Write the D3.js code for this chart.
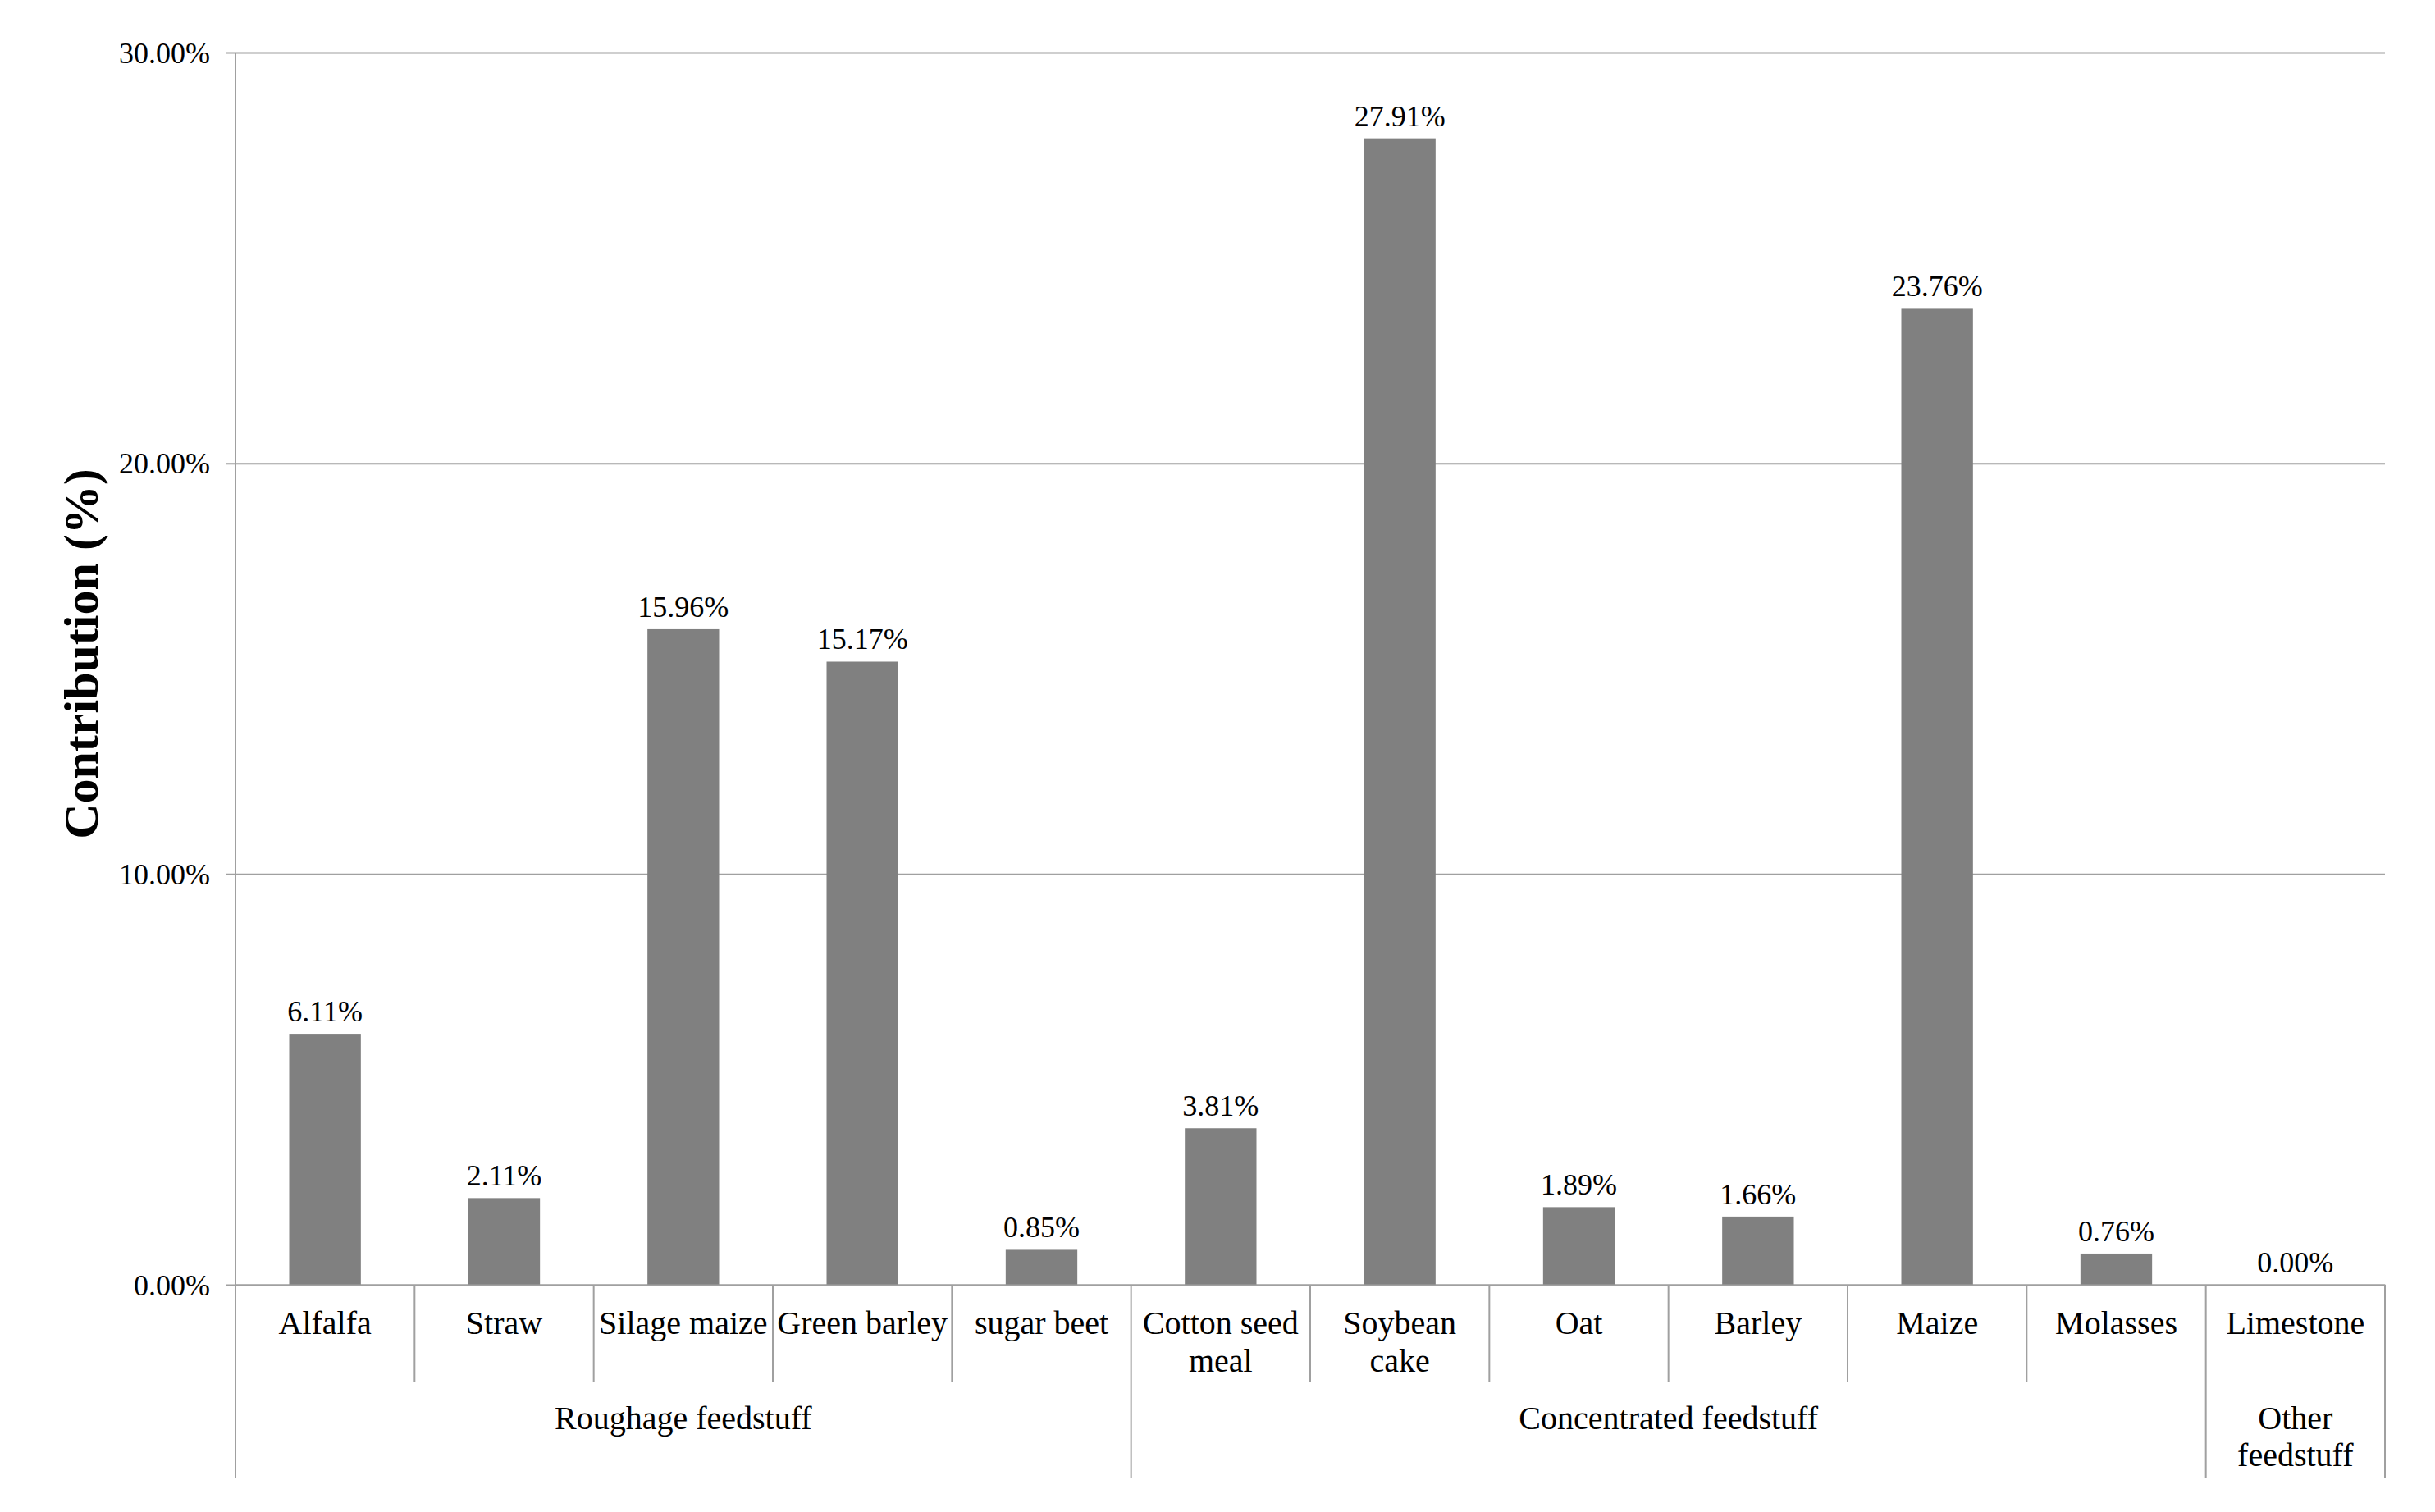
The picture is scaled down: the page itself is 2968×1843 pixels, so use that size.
<!DOCTYPE html>
<html>
<head>
<meta charset="utf-8">
<script src="https://cdn.jsdelivr.net/npm/d3@7"></script>
<style>
  body { margin: 0; background: #fff; }
  svg { display: block; font-family: "Liberation Serif", "Times New Roman", serif; }
</style>
</head>
<body>
<div id="chart"></div>
<script>
// feed ingredients, in chart order (each entry = lines of the tick label)
var categories = [
  ["Alfalfa"], ["Straw"], ["Silage maize"], ["Green barley"], ["sugar beet"],
  ["Cotton seed", "meal"], ["Soybean", "cake"], ["Oat"], ["Barley"], ["Maize"], ["Molasses"],
  ["Limestone"]
];
var contribution = [6.11, 2.11, 15.96, 15.17, 0.85, 3.81, 27.91, 1.89, 1.66, 23.76, 0.76, 0.00];
var groupNames = ["Roughage feedstuff", "Concentrated feedstuff", "Other feedstuff"];
var groupSizes = [5, 6, 1];
var yTicks = [0, 10, 20, 30];

var W = 2968, H = 1843,
    margin = {top: 64, right: 61, bottom: 277, left: 287},
    width = W - margin.left - margin.right,
    height = H - margin.top - margin.bottom;

var svg = d3.select("div#chart").append("svg")
    .attr("width", W)
    .attr("height", H);

var g = svg.append("g").attr("transform", "translate(" + margin.left + "," + margin.top + ")");

var x = d3.scaleBand()
    .domain(d3.range(categories.length))
    .range([0, width])
    .padding(0);

var y = d3.scaleLinear()
    .domain([0, 30])
    .range([height, 0]);

var lineColor = "#a0a0a0";

// gridlines + y labels (ticks stick out 11px left of the axis)
var yAxis = g.append("g")
    .attr("transform", "translate(-11,0)")
    .call(d3.axisLeft(y)
      .tickValues(yTicks)
      .tickSizeInner(-(width + 11))
      .tickSizeOuter(0)
      .tickPadding(20)
      .tickFormat(function(d) { return d3.format(".2f")(d) + "%"; }))
    .attr("font-family", null)
    .attr("font-size", 36);
yAxis.select(".domain").remove();
yAxis.selectAll("line").attr("stroke", lineColor).attr("stroke-width", 2);
yAxis.selectAll("text")
    .attr("fill", "#000")
    .attr("dy", "0.34em");

// bars
var barW = x.bandwidth() * 0.4;
g.append("g")
  .selectAll("rect")
  .data(contribution)
  .enter().append("rect")
    .attr("x", function(d, i) { return x(i) + (x.bandwidth() - barW) / 2; })
    .attr("y", function(d) { return y(d); })
    .attr("width", barW)
    .attr("height", function(d) { return y(0) - y(d); })
    .attr("fill", "#808080");

// value labels
g.append("g")
  .selectAll("text")
  .data(contribution)
  .enter().append("text")
    .attr("x", function(d, i) { return x(i) + x.bandwidth() / 2; })
    .attr("y", function(d) { return y(d) - 15; })
    .attr("text-anchor", "middle")
    .attr("font-size", 36)
    .text(function(d) { return d3.format(".2f")(d) + "%"; });

// x axis: category names
var xAxis = g.append("g")
    .attr("transform", "translate(0," + height + ")")
    .call(d3.axisBottom(x).tickSize(0).tickFormat(""))
    .attr("font-family", null)
    .attr("font-size", 40);
xAxis.select(".domain").attr("stroke", lineColor).attr("stroke-width", 2);
xAxis.selectAll(".tick").append("text")
    .attr("y", 60)
    .attr("text-anchor", "middle")
    .attr("fill", "#000")
    .selectAll("tspan")
    .data(function(d) { return categories[d]; })
    .enter().append("tspan")
      .attr("x", 0)
      .attr("dy", function(d, i) { return i === 0 ? 0 : 46; })
      .text(function(d) { return d; });

// group boundaries
var bounds = [0];
groupSizes.forEach(function(n, i) { bounds.push(bounds[i] + n); });
var groupEdge = function(i) { return i >= categories.length ? width : x(i); };

// short dividers between categories
g.append("g")
  .selectAll("line")
  .data(d3.range(1, categories.length).filter(function(i) { return bounds.indexOf(i) < 0; }))
  .enter().append("line")
    .attr("x1", function(i) { return x(i); })
    .attr("x2", function(i) { return x(i); })
    .attr("y1", height)
    .attr("y2", height + 118)
    .attr("stroke", lineColor)
    .attr("stroke-width", 2);

// long dividers between groups
g.append("g")
  .selectAll("line")
  .data(bounds)
  .enter().append("line")
    .attr("x1", function(i) { return groupEdge(i); })
    .attr("x2", function(i) { return groupEdge(i); })
    .attr("y1", function(i) { return i === 0 ? 0 : height; })
    .attr("y2", height + 236)
    .attr("stroke", lineColor)
    .attr("stroke-width", 2);

// group names
g.append("g")
  .selectAll("text")
  .data(groupNames)
  .enter().append("text")
    .attr("x", function(d, i) { return (groupEdge(bounds[i]) + groupEdge(bounds[i + 1])) / 2; })
    .attr("y", height + 176)
    .attr("text-anchor", "middle")
    .attr("font-size", 40)
    .each(function(d, i) {
      var el = d3.select(this);
      var cx = el.attr("x");
      // narrow single-category group wraps onto two lines
      var lines = groupSizes[i] === 1 ? d.split(" ") : [d];
      lines.forEach(function(t, k) {
        el.append("tspan").attr("x", cx).attr("dy", k === 0 ? 0 : 45).text(t);
      });
    });

// y title
svg.append("text")
    .attr("transform", "translate(119,797) rotate(-90)")
    .attr("text-anchor", "middle")
    .attr("font-size", 60)
    .attr("font-weight", "bold")
    .text("Contribution (%)");
</script>
</body>
</html>
